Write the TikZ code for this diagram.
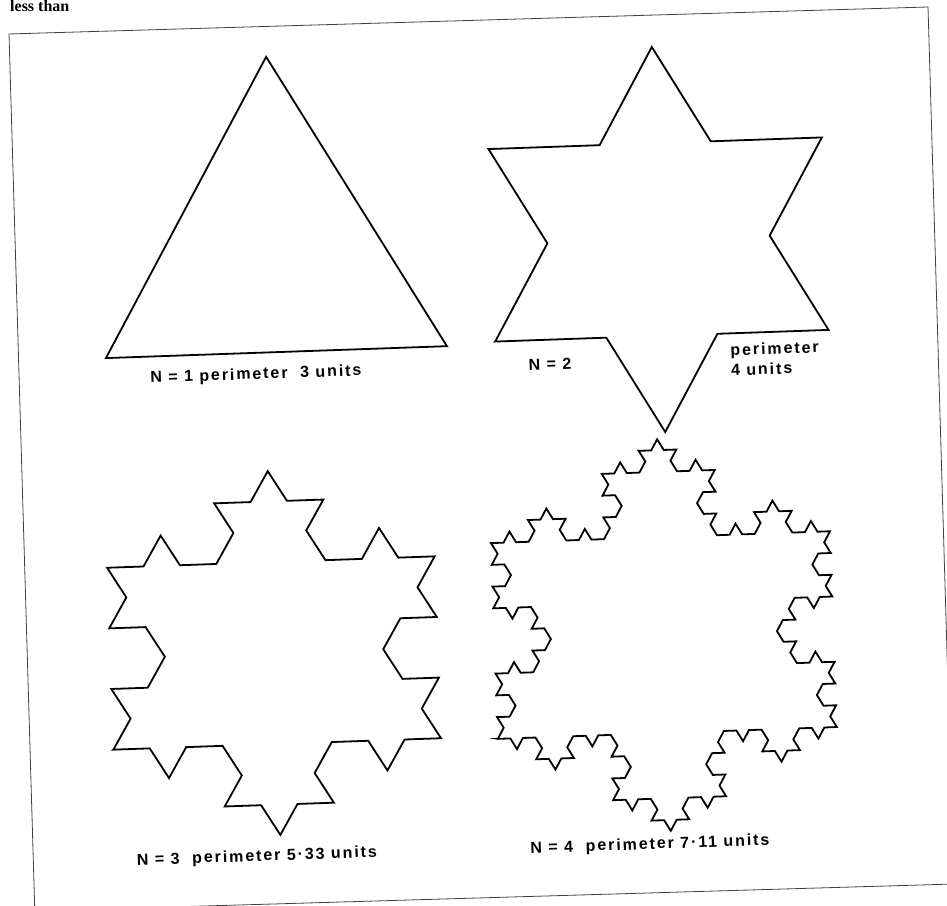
\documentclass[tikz,border=0pt]{standalone}
\usepackage{fontspec}
\newfontfamily\labelfont{Liberation Sans}[LetterSpace=12]
\newfontfamily\pagefont{Liberation Serif}
\usetikzlibrary{lindenmayersystems}
\pgfdeclarelindenmayersystem{koch}{\rule{F -> F-F++F-F}}
\tikzset{flake/.style={line width=1.8pt,line join=miter},
  caption/.style={font=\labelfont\bfseries\fontsize{16}{20}\selectfont,inner sep=0pt,rotate=2}}
\begin{document}
\begin{tikzpicture}[x=1pt,y=1pt]
\useasboundingbox (0,0) rectangle (947,905);
\clip (0,0) rectangle (947,905);
\coordinate (tl) at (9,871); \coordinate (tr) at (928,898);
\coordinate (br) at (953.8,21); \coordinate (bl) at (34.8,-6);
\draw[line width=.8pt,black!75] (tl)--(tr)--(br)--(bl)--cycle;
\node[anchor=base west,inner sep=0pt,font=\pagefont\bfseries\fontsize{16}{18}\selectfont] (cut) at (10,893) {less than};
% N = 1
\begin{scope}[shift={(273,651.3)},rotate=2]
\coordinate (a) at (90:197); \coordinate (b) at (210:197); \coordinate (c) at (330:197);
\draw[flake] (a)--(b)--(c)--cycle;
\end{scope}
% N = 2, 3, 4 (turtle starts at the lower left corner)
\begin{scope}[shift={(658.5,665.5)},rotate=2]
\begin{scope}[shift={(210:192.6)}]
\draw[flake] (0,0) l-system [l-system={koch,axiom=F++F++F,order=1,step=111.2pt,angle=60}] -- cycle;
\end{scope}
\end{scope}
\begin{scope}[shift={(274,252)},rotate=2,xscale=1.04]
\begin{scope}[shift={(210:182)}]
\draw[flake] (0,0) l-system [l-system={koch,axiom=F++F++F,order=2,step=35.03pt,angle=60}] -- cycle;
\end{scope}
\end{scope}
\begin{scope}[shift={(664,270)},rotate=2]
\begin{scope}[shift={(210:196)}]
\draw[flake] (0,0) l-system [l-system={koch,axiom=F++F++F,order=3,step=12.57pt,angle=60}] -- cycle;
\end{scope}
\end{scope}
\node[caption] (lab1) at (256,530) {N = 1 perimeter\ \ 3 units};
\node[caption] (lab2) at (550,541) {N = 2};
\node[caption,anchor=north west,align=left] (per2) at (730,561) {perimeter\\4 units};
\node[caption] (lab3) at (257,48) {N = 3\ \ perimeter 5·33 units};
\node[caption] (lab4) at (650,60) {N = 4\ \ perimeter 7·11 units};
\end{tikzpicture}
\end{document}
